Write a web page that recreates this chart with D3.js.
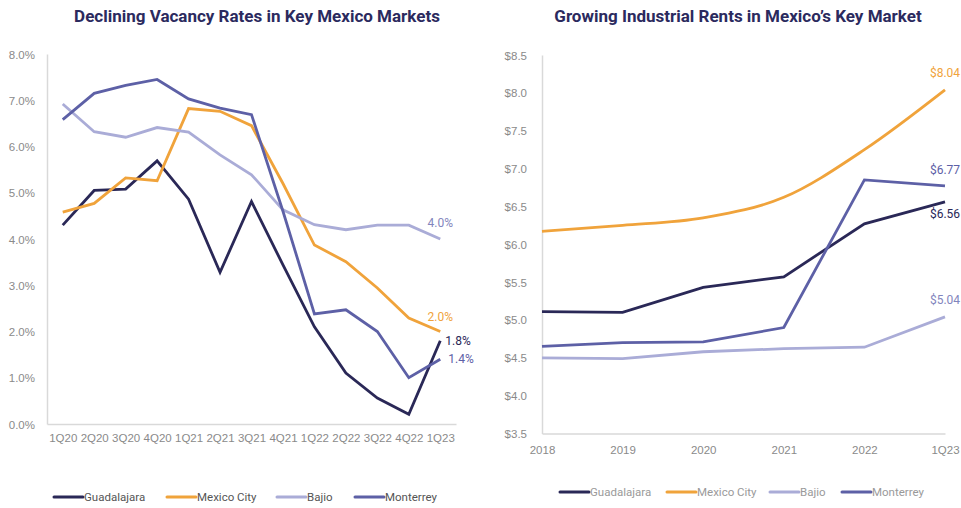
<!doctype html>
<html>
<head>
<meta charset="utf-8"/>
<style>
    html, body { margin: 0; padding: 0; background: #fff; }
    svg { display: block; font-family: 'Roboto', sans-serif; }
    .axis path { stroke: #d9d9d9; stroke-width: 1.5px; fill: none; }
    .axis text { fill: #8a8a8a; font-size: 11.5px; }
    .title { fill: #2b2a5e; font-size: 17px; font-weight: 700; }
    .legend text { font-size: 11.5px; }
</style>
<script src="https://cdnjs.cloudflare.com/ajax/libs/d3/7.8.5/d3.min.js"></script>
</head>
<body>
<svg width="961" height="508"></svg>
<script>
    // --- DATA --- //
    var markets = ["Guadalajara", "Mexico City", "Bajio", "Monterrey"];
    var colours = ["#2a2857", "#f0a33b", "#aaacd7", "#5d60a6"];

    var quarters = ["1Q20", "2Q20", "3Q20", "4Q20", "1Q21", "2Q21", "3Q21", "4Q21", "1Q22", "2Q22", "3Q22", "4Q22", "1Q23"];
    var vacGuadalajara = [4.3, 5.05, 5.08, 5.69, 4.86, 3.28, 4.81, 3.44, 2.1, 1.1, 0.56, 0.21, 1.8];
    var vacMexicoCity = [4.58, 4.77, 5.32, 5.26, 6.82, 6.76, 6.45, 5.2, 3.87, 3.51, 2.94, 2.29, 2.0];
    var vacBajio = [6.92, 6.32, 6.2, 6.41, 6.31, 5.82, 5.39, 4.63, 4.31, 4.2, 4.3, 4.3, 4.0];
    var vacMonterrey = [6.58, 7.15, 7.32, 7.45, 7.03, 6.83, 6.69, 4.6, 2.38, 2.47, 2.0, 1.0, 1.4];
    var vacTicks = [0, 1, 2, 3, 4, 5, 6, 7, 8];

    var years = ["2018", "2019", "2020", "2021", "2022", "1Q23"];
    var rentGuadalajara = [5.11, 5.10, 5.43, 5.57, 6.27, 6.56];
    var rentMexicoCity = [6.17, 6.25, 6.35, 6.62, 7.25, 8.04];
    var rentBajio = [4.50, 4.49, 4.58, 4.62, 4.64, 5.04];
    var rentMonterrey = [4.65, 4.70, 4.71, 4.90, 6.85, 6.77];
    var rentTicks = [3.5, 4.0, 4.5, 5.0, 5.5, 6.0, 6.5, 7.0, 7.5, 8.0, 8.5];

    var svg = d3.select("svg");

    function drawChart(opts) {
        var g = svg.append("g");

        var x = d3.scalePoint().domain(opts.cats).range(opts.xRange).padding(opts.padding);
        var y = d3.scaleLinear().domain(opts.yDomain).range(opts.yRange);

        g.append("text")
            .attr("class", "title")
            .attr("x", opts.titleX)
            .attr("y", 22)
            .attr("text-anchor", "middle")
            .text(opts.title);

        g.append("g")
            .attr("class", "axis")
            .attr("transform", "translate(" + opts.xRange[0] + ",0)")
            .call(d3.axisLeft(y).tickValues(opts.ticks).tickFormat(opts.tickFormat)
                .tickSize(0).tickPadding(opts.yPad))
            .call(function(a) { a.selectAll("text").attr("dy", "0.35em"); });

        g.append("g")
            .attr("class", "axis")
            .attr("transform", "translate(0," + opts.yRange[0] + ")")
            .call(d3.axisBottom(x).tickSize(0).tickPadding(opts.xPad));

        var line = d3.line()
            .x(function(d, i) { return x(opts.cats[i]); })
            .y(function(d) { return y(d); });

        opts.series.forEach(function(s, k) {
            var l = line.curve(opts.smooth[k] ? d3.curveMonotoneX : d3.curveLinear);
            g.append("path")
                .attr("d", l(s))
                .attr("fill", "none")
                .attr("stroke", colours[k])
                .attr("stroke-width", 2.8)
                .attr("stroke-linejoin", "miter");
        });

        // end labels
        opts.series.forEach(function(s, k) {
            var last = s[s.length - 1];
            var lab = opts.labels[k];
            g.append("text")
                .attr("x", x(opts.cats[opts.cats.length - 1]) + lab.dx)
                .attr("y", y(last) + lab.dy)
                .attr("dy", "0.35em")
                .attr("text-anchor", lab.anchor)
                .attr("fill", opts.labelColours[k])
                .style("font-size", "12px")
                .text(opts.labelFormat(last));
        });

        // legend
        var lg = g.append("g").attr("class", "legend");
        opts.legendX.forEach(function(lx, k) {
            lg.append("line")
                .attr("x1", lx).attr("x2", lx + 29)
                .attr("y1", opts.legendY).attr("y2", opts.legendY)
                .attr("stroke", colours[k])
                .attr("stroke-width", 3)
                .attr("stroke-linecap", "round");
            lg.append("text")
                .attr("x", lx + 30)
                .attr("y", opts.legendY)
                .attr("dy", "0.35em")
                .attr("fill", opts.legendText)
                .text(markets[k]);
        });
    }

    drawChart({
        title: "Declining Vacancy Rates in Key Mexico Markets",
        titleX: 257,
        cats: quarters,
        xRange: [47, 456],
        padding: 0.5,
        yDomain: [0, 8],
        yRange: [424, 54],
        ticks: vacTicks,
        tickFormat: function(d) { return d.toFixed(1) + "%"; },
        yPad: 12,
        xPad: 10,
        series: [vacGuadalajara, vacMexicoCity, vacBajio, vacMonterrey],
        smooth: [false, false, false, false],
        labels: [
            {dx: 5, dy: 0, anchor: "start"},
            {dx: 0, dy: -15, anchor: "middle"},
            {dx: 0, dy: -16, anchor: "middle"},
            {dx: 8, dy: 0, anchor: "start"}
        ],
        labelColours: ["#2a2857", "#f0a33b", "#8285bd", "#5d60a6"],
        labelFormat: function(d) { return d.toFixed(1) + "%"; },
        legendX: [54, 167, 277, 355],
        legendY: 497,
        legendText: "#555"
    });

    drawChart({
        title: "Growing Industrial Rents in Mexico\u2019s Key Market",
        titleX: 738,
        cats: years,
        xRange: [542, 945],
        padding: 0,
        yDomain: [3.5, 8.5],
        yRange: [433.5, 55],
        ticks: rentTicks,
        tickFormat: function(d) { return "$" + d.toFixed(1); },
        yPad: 15,
        xPad: 12,
        series: [rentGuadalajara, rentMexicoCity, rentBajio, rentMonterrey],
        smooth: [false, true, false, false],
        labels: [
            {dx: 0, dy: 12, anchor: "middle"},
            {dx: 0, dy: -17, anchor: "middle"},
            {dx: 0, dy: -17, anchor: "middle"},
            {dx: 0, dy: -16, anchor: "middle"}
        ],
        labelColours: ["#2a2857", "#f0a33b", "#8285bd", "#5d60a6"],
        labelFormat: function(d) { return "$" + d.toFixed(2); },
        legendX: [560, 667, 770, 842],
        legendY: 492,
        legendText: "#9a9a9a"
    });
</script>
</body>
</html>
